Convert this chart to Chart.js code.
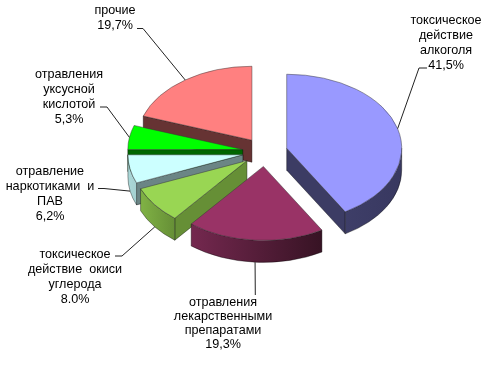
<!DOCTYPE html>
<html>
<head>
<meta charset="utf-8">
<style>
html, body { margin: 0; padding: 0; background: #fff; }
canvas { display: block; }
</style>
<script src="https://cdn.jsdelivr.net/npm/chart.js@4"></script>
</head>
<body>
<canvas id="pie" width="487" height="365"></canvas>
<script>
var categories = [
    ['токсическое', 'действие', 'алкоголя'],
    ['отравления', 'лекарственными', 'препаратами'],
    ['токсическое', 'действие  окиси', 'углерода'],
    ['отравление', 'наркотиками  и', 'ПАВ'],
    ['отравления', 'уксусной', 'кислотой'],
    ['прочие']
];
var values = [41.5, 19.3, 8.0, 6.2, 5.3, 19.7];
var percentLabels = ['41,5%', '19,3%', '8.0%', '6,2%', '5,3%', '19,7%'];

var topColors = ['#9999FF', '#993366', '#99D653', '#CCFFFF', '#00FF00', '#FF8080'];
var rimFrom = ['#3E3E68', '#74284F', '#80B245', '#ABD8D8', '#006600', '#663333'];
var rimTo = ['#383860', '#371324', '#668F36', '#A4D0D0', '#006600', '#663333'];
var edgeColors = ['#3C3C64', '#3C1426', '#668F36', '#6B8585', '#006600', '#663333'];

// label block centre x, first line y, line height, then the elbow of the leader line
var labelBoxes = [
    { x: 446, y: 20.5, lh: 15, elbow: [419, 68], end: [427, 68] },
    { x: 223, y: 302.5, lh: 14, elbow: [255.3, 295], end: [255.3, 295] },
    { x: 75, y: 254.5, lh: 15, elbow: [122, 256], end: [115, 256] },
    { x: 50, y: 171.5, lh: 15, elbow: [104, 188.5], end: [98, 188.5] },
    { x: 69, y: 74.5, lh: 15, elbow: [107, 107], end: [100, 107] },
    { x: 115, y: 11, lh: 15, elbow: [143, 28.5], end: [137, 28.5] }
];

var squash = 0.643;   // ellipse height / width of the tilted pie
var depth = 22;       // height of the pie wall
var explode = 22.5;   // distance every slice is pulled out

function midAngle(arc) {
    return (arc.startAngle + arc.endAngle) / 2;
}

function sliceCentre(arc) {
    var mid = midAngle(arc);
    return {
        x: arc.x + Math.cos(mid) * explode,
        y: arc.y + Math.sin(mid) * explode * squash
    };
}

function rimPoint(c, r, a) {
    return { x: c.x + Math.cos(a) * r, y: c.y + Math.sin(a) * r * squash };
}

function strokeWall(ctx) {
    ctx.strokeStyle = 'rgba(0,0,0,0.55)';
    ctx.lineWidth = 0.7;
    ctx.stroke();
}

function drawEdgeWall(ctx, c, r, a, color) {
    var p = rimPoint(c, r, a);
    ctx.beginPath();
    ctx.moveTo(c.x, c.y);
    ctx.lineTo(p.x, p.y);
    ctx.lineTo(p.x, p.y + depth);
    ctx.lineTo(c.x, c.y + depth);
    ctx.closePath();
    ctx.fillStyle = color;
    ctx.fill();
    strokeWall(ctx);
}

function drawRim(ctx, c, r, i, a0, a1) {
    var from = Math.max(a0, 0);
    var to = Math.min(a1, Math.PI);
    if (to <= from) return;
    var left = rimPoint(c, r, to).x;
    var right = rimPoint(c, r, from).x;
    var grad = ctx.createLinearGradient(left, 0, right, 0);
    grad.addColorStop(0, rimFrom[i]);
    grad.addColorStop(1, rimTo[i]);
    ctx.beginPath();
    ctx.ellipse(c.x, c.y, r, r * squash, 0, from, to);
    ctx.ellipse(c.x, c.y + depth, r, r * squash, 0, to, from, true);
    ctx.closePath();
    ctx.fillStyle = grad;
    ctx.fill();
    strokeWall(ctx);
}

var pie3d = {
    id: 'pie3d',
    beforeDatasetDraw: function (chart) {
        var ctx = chart.ctx;
        var arcs = chart.getDatasetMeta(0).data.map(function (arc, i) {
            return { arc: arc, i: i };
        });
        // paint from the back of the pie to the front
        arcs.sort(function (a, b) {
            return Math.sin(midAngle(a.arc)) - Math.sin(midAngle(b.arc));
        });
        arcs.forEach(function (item) {
            var arc = item.arc;
            var c = sliceCentre(arc);
            var r = arc.outerRadius;
            if (Math.cos(arc.startAngle) < -1e-6) drawEdgeWall(ctx, c, r, arc.startAngle, edgeColors[item.i]);
            if (Math.cos(arc.endAngle) > 1e-6) drawEdgeWall(ctx, c, r, arc.endAngle, edgeColors[item.i]);
            drawRim(ctx, c, r, item.i, arc.startAngle, arc.endAngle);

            ctx.save();
            ctx.translate(c.x, c.y);
            ctx.scale(1, squash);
            ctx.translate(-arc.x, -arc.y);
            arc.draw(ctx);
            ctx.restore();
        });
        return false;
    },
    afterDraw: function (chart) {
        var ctx = chart.ctx;
        chart.getDatasetMeta(0).data.forEach(function (arc, i) {
            var box = labelBoxes[i];
            var mid = midAngle(arc);
            var p = rimPoint(sliceCentre(arc), arc.outerRadius, mid);
            if (Math.sin(mid) > 0) p.y += depth;

            ctx.beginPath();
            ctx.moveTo(p.x, p.y);
            ctx.lineTo(box.elbow[0], box.elbow[1]);
            ctx.lineTo(box.end[0], box.end[1]);
            ctx.strokeStyle = '#222';
            ctx.lineWidth = 1;
            ctx.stroke();

            ctx.fillStyle = '#000';
            ctx.font = '12.6px "Liberation Sans"';
            ctx.textAlign = 'center';
            ctx.textBaseline = 'middle';
            categories[i].concat(percentLabels[i]).forEach(function (line, n) {
                ctx.fillText(line, box.x, box.y + n * box.lh);
            });
        });
    }
};

new Chart(document.getElementById('pie'), {
    type: 'pie',
    data: {
        labels: categories.map(function (c) { return c.join(' '); }),
        datasets: [{
            data: values,
            radius: 115,
            backgroundColor: topColors,
            borderColor: 'rgba(50,50,50,0.7)',
            borderWidth: 0.8
        }]
    },
    options: {
        responsive: false,
        animation: false,
        layout: { padding: { left: 43, bottom: 61 } },
        plugins: {
            legend: { display: false },
            tooltip: { enabled: false }
        }
    },
    plugins: [pie3d]
});
</script>
</body>
</html>
